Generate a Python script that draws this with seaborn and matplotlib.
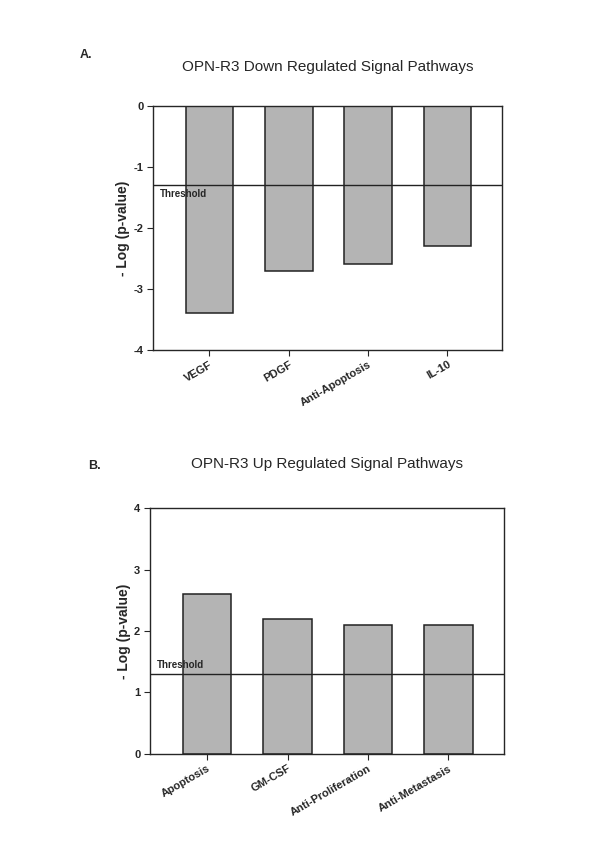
import matplotlib
matplotlib.use('Agg')
import pandas as pd
import matplotlib.pyplot as plt
import seaborn as sns

sns.set_style('ticks')
plt.rcParams['font.family'] = ['Liberation Sans', 'DejaVu Sans']

# data
down_labels = ['VEGF', 'PDGF', 'Anti-Apoptosis', 'IL-10']
down_values = [-3.4, -2.7, -2.6, -2.3]
up_labels = ['Apoptosis', 'GM-CSF', 'Anti-Proliferation', 'Anti-Metastasis']
up_values = [2.6, 2.2, 2.1, 2.1]
threshold_down = -1.3
threshold_up = 1.3

fig = plt.figure(figsize=(6, 8.47), dpi=100)
ax1 = fig.add_axes([0.255, 0.587, 0.582, 0.288])
ax2 = fig.add_axes([0.25, 0.110, 0.59, 0.290])

bar_color = '#b4b4b4'


def draw_panel(ax, labels, values, thr, ylim, yticks, title, title_y, letter, letter_xy, thr_va):
    df = pd.DataFrame({'Pathway': labels, 'Value': values})
    sns.barplot(data=df, x='Pathway', y='Value', color=bar_color, width=0.6,
                edgecolor='#222222', linewidth=1.1, saturation=1, ax=ax)
    ax.axhline(thr, color='#222222', linewidth=1.0, zorder=3)
    ax.set_xlim(-0.71, 3.69)
    ax.set_ylim(*ylim)
    ax.set_yticks(yticks)
    ax.set_yticklabels([str(t) for t in yticks], fontsize=8, fontweight='bold')
    ax.set_xticks(range(len(labels)))
    ax.set_xticklabels(labels, rotation=30, ha='right', rotation_mode='anchor',
                       fontsize=8, fontweight='bold')
    ax.set_xlabel('')
    ax.set_ylabel('- Log (p-value)', fontsize=10, fontweight='bold', labelpad=2)
    ax.tick_params(axis='both', direction='out', length=4, width=0.8, pad=3)
    for s in ax.spines.values():
        s.set_visible(True)
        s.set_linewidth(1.0)
    off = -0.06 if thr_va == 'top' else 0.06
    ax.text(-0.62, thr + off * (ylim[1] - ylim[0]) / 4, 'Threshold', fontsize=7,
            fontweight='bold', va=thr_va, ha='left')
    ax.set_title(title, fontsize=11, y=title_y)
    fig.text(letter_xy[0], letter_xy[1], letter, fontsize=9, fontweight='bold')


draw_panel(ax1, down_labels, down_values, threshold_down, (-4, 0), [-4, -3, -2, -1, 0],
           'OPN-R3 Down Regulated Signal Pathways', 1.11, 'A.', (0.133, 0.932), 'top')

draw_panel(ax2, up_labels, up_values, threshold_up, (0, 4), [0, 1, 2, 3, 4],
           'OPN-R3 Up Regulated Signal Pathways', 1.128, 'B.', (0.147, 0.446), 'bottom')

fig.savefig('out.png', dpi=100)
